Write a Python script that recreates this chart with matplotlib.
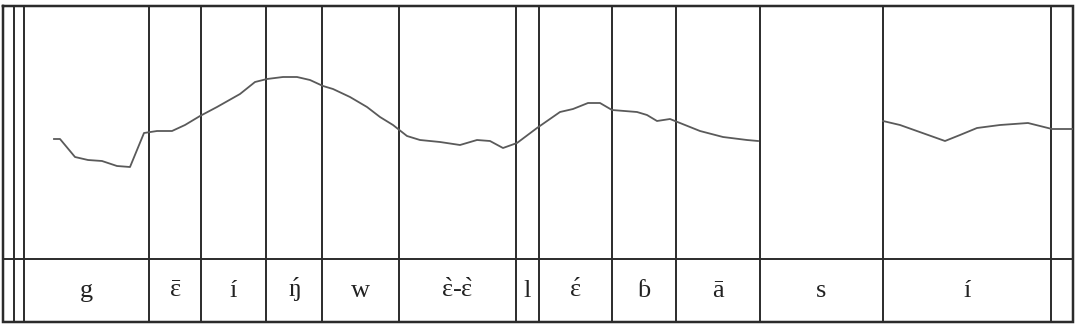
import matplotlib
matplotlib.use("Agg")
import matplotlib.pyplot as plt

plt.rcParams["mathtext.fontset"] = "custom"
plt.rcParams["mathtext.rm"] = "Liberation Serif"
plt.rcParams["mathtext.it"] = "Liberation Serif"
plt.rcParams["mathtext.bf"] = "Liberation Serif:bold"

EPS = "\u025b"   # open e
ENG = "\u014b"   # eng


def acc(kind, ch):
    return r"$\mathrm{\%s{%s}}$" % (kind, ch)


# Segment boundaries (time axis, arbitrary units matching the figure scale)
boundaries = [3, 14, 24, 149, 201, 266, 322, 399, 516, 539, 612, 676, 760, 883, 1051, 1073]
# Segment labels (between consecutive boundaries starting at index 2)
labels = ["g", acc("bar", EPS), "\u00ed", acc("acute", ENG), "w",
          acc("grave", EPS) + "-" + acc("grave", EPS),
          "l", acc("acute", EPS), "\u0253", "\u0101", "s", "\u00ed", ""]

# Pitch contour, part 1 (time, value) — value axis inverted (higher = higher pitch)
t1 = [54, 60, 75, 88, 102, 117, 130, 144, 157, 172, 185, 200, 217, 240, 255, 267, 283, 297,
      310, 323, 333, 350, 367, 380, 393, 407, 420, 440, 460, 477, 490, 503, 517, 537, 560,
      573, 588, 600, 612, 637, 647, 657, 670, 680, 700, 723, 747, 758]
p1 = [139, 139, 157, 160, 161, 166, 167, 133, 131, 131, 125, 116, 107, 94, 82, 79, 77, 77,
      80, 86, 89, 97, 107, 117, 125, 136, 140, 142, 145, 140, 141, 148, 143, 128, 112,
      109, 103, 103, 110, 112, 115, 121, 119, 123, 131, 137, 140, 141]
# Pitch contour, part 2 (after the voiceless 's')
t2 = [883, 900, 945, 960, 977, 1000, 1028, 1052, 1072]
p2 = [121, 125, 141, 135, 128, 125, 123, 129, 129]

top, sep, bottom = 6, 259, 322

fig = plt.figure(figsize=(10.89, 3.29), dpi=100)
ax = fig.add_axes([0, 0, 1, 1])
ax.set_xlim(0, 1089)
ax.set_ylim(329, 0)
ax.axis("off")

frame_col = "#2b2b2b"
lw = 1.4
# outer frame
ax.plot([boundaries[0], boundaries[-1], boundaries[-1], boundaries[0], boundaries[0]],
        [top, top, bottom, bottom, top], color=frame_col, lw=lw + 0.4, solid_joinstyle="miter")
# separator
ax.plot([boundaries[0], boundaries[-1]], [sep, sep], color=frame_col, lw=lw)
# boundaries
for b in boundaries[1:-1]:
    ax.plot([b, b], [top, bottom], color=frame_col, lw=lw)

# contour
ax.plot(t1, p1, color="#5a5a5a", lw=1.3)
ax.plot(t2, p2, color="#5a5a5a", lw=1.3)

# labels
for i, lab in enumerate(labels):
    a, b = boundaries[i + 2], boundaries[i + 3]
    ax.text((a + b) / 2, 297, lab, ha="center", va="baseline", fontsize=19,
            family=["Liberation Serif", "DejaVu Serif"], color="#222222")

fig.savefig("out.png", dpi=100)
